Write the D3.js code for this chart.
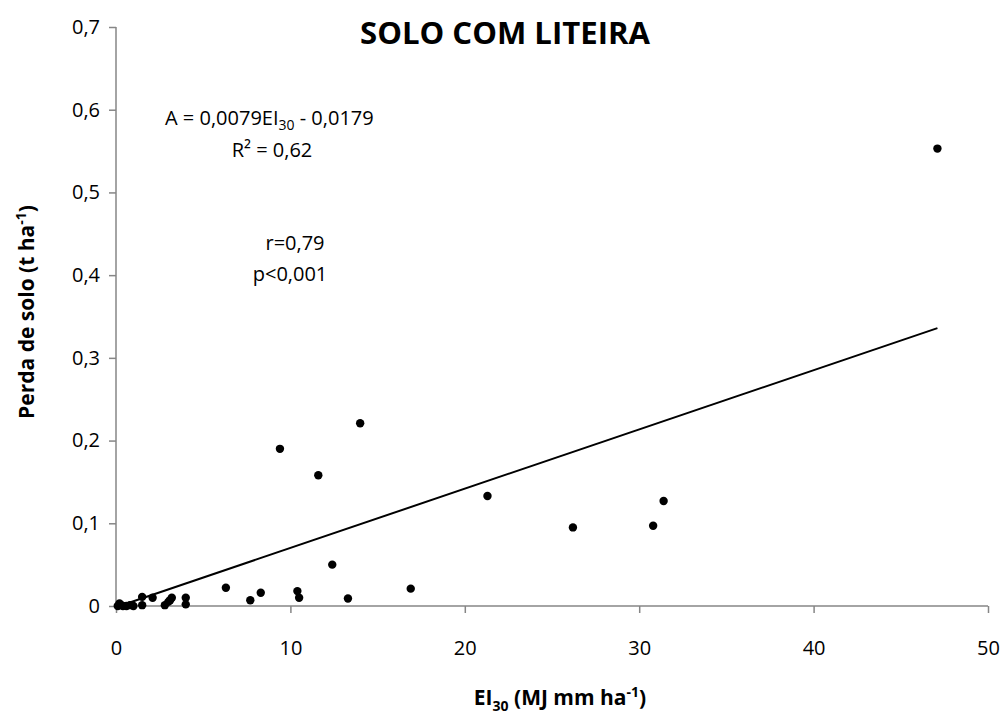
<!DOCTYPE html>
<meta charset="utf-8">
<script src="https://d3js.org/d3.v7.min.js"></script>
<style>
  body { margin: 0; background: #fff; }
  text { font-family: "Open Sans", "Noto Sans", sans-serif; fill: #000; }
</style>
<body>
<div id="chart"></div>
<script>
// data
var ei30 = [0.1, 0.2, 0.3, 0.4, 0.6, 0.8, 1.0, 1.5, 1.5, 2.1, 2.8, 3.0, 3.1, 3.2, 4.0, 4.0,
            6.3, 7.7, 8.3, 9.4, 10.4, 10.5, 11.6, 12.4, 13.3, 14.0, 16.9, 21.3, 26.2, 30.8, 31.4, 47.1];
var perda = [0.000, 0.003, 0.001, 0.000, 0.000, 0.001, 0.000, 0.011, 0.001, 0.010, 0.001, 0.005, 0.007, 0.010, 0.010, 0.002,
             0.022, 0.007, 0.016, 0.190, 0.018, 0.010, 0.158, 0.050, 0.009, 0.221, 0.021, 0.133, 0.095, 0.097, 0.127, 0.553];
var trendX = [0.2, 47.1];
var trendY = [0.0, 0.336];
var xTicks = [0, 10, 20, 30, 40, 50];
var yTicks = [0, 0.1, 0.2, 0.3, 0.4, 0.5, 0.6, 0.7];

var W = 1005, H = 716;
var margin = {top: 27, right: 17, bottom: 110, left: 116};
var width = W - margin.left - margin.right,
    height = H - margin.top - margin.bottom;

var svg = d3.select("#chart").append("svg")
    .attr("width", W)
    .attr("height", H);

var g = svg.append("g")
    .attr("transform", "translate(" + margin.left + "," + margin.top + ")");

var x = d3.scaleLinear().domain([0, 50]).range([0, width]);
var y = d3.scaleLinear().domain([0, 0.7]).range([height, 0]);

var fmt = function(d) { return d === 0 ? "0" : d3.format(".1f")(d).replace(".", ","); };

// axes
var xAxis = g.append("g")
    .attr("transform", "translate(0," + height + ")")
    .call(d3.axisBottom(x).tickValues(xTicks).tickSizeOuter(0).tickSize(7).tickPadding(28).tickFormat(d3.format("d")));
var yAxis = g.append("g")
    .call(d3.axisLeft(y).tickValues(yTicks).tickSizeOuter(0).tickSize(7).tickPadding(9).tickFormat(fmt));

[xAxis, yAxis].forEach(function(a) {
  a.selectAll("path, line").attr("stroke", "#868686").attr("stroke-width", 1.5);
  a.selectAll("text").style("font-size", "20px").attr("fill", "#000")
    .style("font-family", '"Open Sans", "Noto Sans", sans-serif');
});
xAxis.select(".domain").attr("d", "M0,0H" + width);
yAxis.select(".domain").attr("d", "M0," + height + "V0");

// trend line
g.append("line")
    .attr("x1", x(trendX[0])).attr("y1", y(trendY[0]))
    .attr("x2", x(trendX[1])).attr("y2", y(trendY[1]))
    .attr("stroke", "#000").attr("stroke-width", 2);

// points
g.selectAll(".dot")
    .data(ei30.map(function(d, i) { return [d, perda[i]]; }))
  .enter().append("circle")
    .attr("class", "dot")
    .attr("cx", function(d) { return x(d[0]); })
    .attr("cy", function(d) { return y(d[1]); })
    .attr("r", 4.2)
    .attr("fill", "#000");

// title
svg.append("text")
    .attr("x", 505).attr("y", 44)
    .attr("text-anchor", "middle")
    .attr("textLength", 290).attr("lengthAdjust", "spacingAndGlyphs")
    .style("font-size", "31px").style("font-weight", "bold")
    .text("SOLO COM LITEIRA");

// equation annotations
var eq = svg.append("text").attr("x", 165).attr("y", 125).style("font-size", "20px");
eq.append("tspan").text("A = 0,0079EI");
eq.append("tspan").attr("dy", 5).style("font-size", "14px").text("30");
eq.append("tspan").attr("dy", -5).text(" - 0,0179");

svg.append("text").attr("x", 272).attr("y", 157).attr("text-anchor", "middle")
    .style("font-size", "20px").text("R² = 0,62");
svg.append("text").attr("x", 295).attr("y", 250).attr("text-anchor", "middle")
    .style("font-size", "20px").text("r=0,79");
svg.append("text").attr("x", 290).attr("y", 281).attr("text-anchor", "middle")
    .style("font-size", "20px").text("p<0,001");

// x label
var xl = svg.append("text").attr("x", 560).attr("y", 705).attr("text-anchor", "middle")
    .style("font-size", "21px").style("font-weight", "bold");
xl.append("tspan").text("EI");
xl.append("tspan").attr("dy", 6).style("font-size", "14px").text("30");
xl.append("tspan").attr("dy", -6).text(" (MJ mm ha");
xl.append("tspan").attr("dy", -8).style("font-size", "14px").text("-1");
xl.append("tspan").attr("dy", 8).text(")");

// y label
var yl = svg.append("text")
    .attr("transform", "translate(34," + 312 + ") rotate(-90)")
    .attr("text-anchor", "middle")
    .style("font-size", "21px").style("font-weight", "bold");
yl.append("tspan").text("Perda de solo (t ha");
yl.append("tspan").attr("dy", -8).style("font-size", "14px").text("-1");
yl.append("tspan").attr("dy", 8).text(")");
</script>
</body>
